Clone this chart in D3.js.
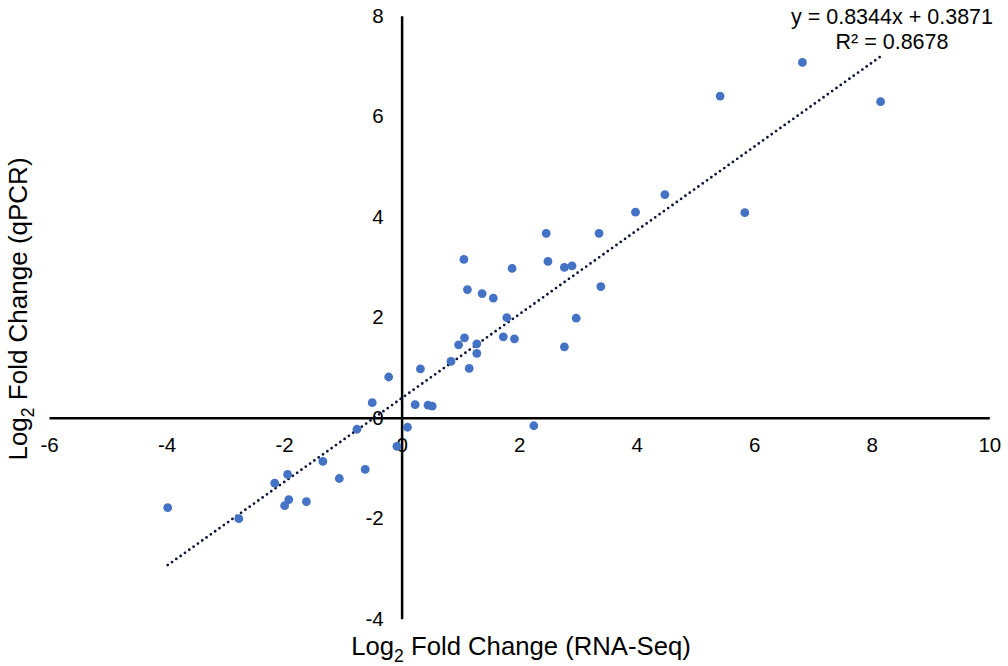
<!DOCTYPE html>
<html>
<head>
<meta charset="utf-8">
<script src="https://cdn.jsdelivr.net/npm/d3@7"></script>
<style>
    body { margin: 0; background: #fff; }
    svg { display: block; font-family: "Liberation Sans", Arial, sans-serif; }
</style>
</head>
<body>
<div id="chart"></div>
<script>
// log2 fold change, RNA-Seq (x) against qPCR (y)
var rnaSeq = [-3.98, -2.77, -2.16, -1.94, -1.92, -1.99, -1.62, -1.34, -1.06, -0.62,
    -0.76, -0.50, -0.22, 0.32, 0.23, 0.45, 0.52, 0.10, -0.08, 1.06,
    1.12, 1.37, 1.56, 1.88, 2.49, 2.77, 2.90, 3.39, 1.79, 2.97,
    1.07, 0.97, 1.28, 1.28, 1.73, 1.92, 2.77, 0.84, 1.15, 2.25,
    6.82, 5.42, 8.15, 4.48, 3.98, 5.84, 3.36, 2.46];
var qpcr = [-1.79, -2.01, -1.30, -1.13, -1.63, -1.75, -1.67, -0.87, -1.21, -1.03,
    -0.23, 0.30, 0.81, 0.97, 0.26, 0.25, 0.23, -0.19, -0.57, 3.15,
    2.55, 2.47, 2.38, 2.97, 3.11, 2.99, 3.02, 2.61, 1.99, 1.98,
    1.59, 1.45, 1.47, 1.28, 1.61, 1.57, 1.41, 1.12, 0.98, -0.16,
    7.07, 6.40, 6.29, 4.44, 4.09, 4.08, 3.67, 3.67];

var xTicks = [-6, -4, -2, 0, 2, 4, 6, 8, 10];
var yTicks = [-4, -2, 0, 2, 4, 6, 8];

// linear trendline as printed on the chart
var trendSlope = 0.8344;
var trendIntercept = 0.3871;
var trendR2 = 0.8678;

var width = 1008,
    height = 666;

var x = d3.scaleLinear().domain([-6, 10]).range([49, 989.3]);
var y = d3.scaleLinear().domain([-4, 8]).range([618.7, 15.7]);

var svg = d3.select('#chart').append('svg')
    .attr('width', width)
    .attr('height', height);

var points = rnaSeq.map(function(d, i) { return [d, qpcr[i]]; });

// plain hyphen for negatives, like the original
var fmt = function(d) { return String(d); };

// axes cross at the origin
var xAxis = svg.append('g')
    .attr('transform', 'translate(0,' + y(0) + ')')
    .call(d3.axisBottom(x).tickValues(xTicks).tickFormat(fmt)
        .tickSize(0).tickSizeOuter(0).tickPadding(20));

var yAxis = svg.append('g')
    .attr('transform', 'translate(' + x(0) + ',0)')
    .call(d3.axisLeft(y).tickValues(yTicks).tickFormat(fmt)
        .tickSize(0).tickSizeOuter(0).tickPadding(18));

[xAxis, yAxis].forEach(function(g) {
    g.select('.domain').attr('stroke', '#000').attr('stroke-width', 2.5);
    g.selectAll('text')
        .attr('fill', '#000')
        .style('font-size', '20.5px')
        .style('font-family', '"Liberation Sans", Arial, sans-serif');
});

// trendline over the range of the data
var xMin = d3.min(rnaSeq),
    xMax = d3.max(rnaSeq);

svg.append('line')
    .attr('x1', x(xMin))
    .attr('y1', y(trendSlope * xMin + trendIntercept))
    .attr('x2', x(xMax))
    .attr('y2', y(trendSlope * xMax + trendIntercept))
    .attr('stroke', '#0c1533')
    .attr('stroke-width', 2.8)
    .attr('stroke-linecap', 'round')
    .attr('stroke-dasharray', '0,5.3');

svg.append('g').selectAll('circle')
    .data(points)
    .enter().append('circle')
    .attr('cx', function(d) { return x(d[0]); })
    .attr('cy', function(d) { return y(d[1]); })
    .attr('r', 4.4)
    .attr('fill', '#4472c4');

// equation label
var eq = svg.append('text')
    .attr('text-anchor', 'middle')
    .style('font-size', '21.5px')
    .attr('fill', '#000');

eq.append('tspan')
    .attr('x', 892)
    .attr('y', 24)
    .text('y = ' + trendSlope.toFixed(4) + 'x + ' + trendIntercept.toFixed(4));

eq.append('tspan')
    .attr('x', 892)
    .attr('y', 48.5)
    .text('R\u00b2 = ' + trendR2.toFixed(4));

// axis titles with subscript 2
function addTitle(sel, suffix) {
    sel.append('tspan').text('Log');
    sel.append('tspan')
        .attr('dy', 7)
        .style('font-size', '17.5px')
        .text('2');
    sel.append('tspan')
        .attr('dy', -7)
        .text(' Fold Change ' + suffix);
}

svg.append('text')
    .attr('x', 521)
    .attr('y', 655)
    .attr('text-anchor', 'middle')
    .style('font-size', '25.7px')
    .attr('fill', '#000')
    .call(addTitle, '(RNA-Seq)');

svg.append('text')
    .attr('transform', 'translate(27,309) rotate(-90)')
    .attr('text-anchor', 'middle')
    .style('font-size', '26px')
    .attr('fill', '#000')
    .call(addTitle, '(qPCR)');
</script>
</body>
</html>
